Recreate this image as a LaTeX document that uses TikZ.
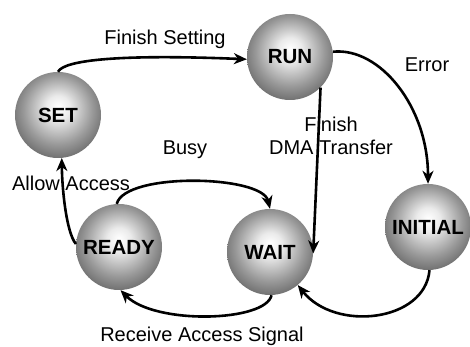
\documentclass[tikz,border=0pt]{standalone}
\usepackage{fontspec}
\setmainfont{Liberation Sans}
\usetikzlibrary{arrows.meta}

% grey sphere: light centre, dark rim
\pgfdeclareradialshading{sphere}{\pgfpoint{0bp}{5bp}}{%
  color(0bp)=(white); color(7bp)=(black!8); color(20bp)=(black!40);
  color(32bp)=(black!66); color(42bp)=(black!88); color(49bp)=(black)}

\tikzset{
  state/.style={circle, shade, shading=sphere, minimum size=86pt, inner sep=0pt,
    font=\fontsize{20.5}{22}\selectfont\bfseries, text=black},
  edge/.style={line width=2.6pt, -{Stealth[length=13pt, width=11pt, inset=4pt]}},
  lbl/.style={font=\fontsize{20}{23}\selectfont, inner sep=0pt, align=center}
}

\begin{document}
\begin{tikzpicture}[x=1pt, y=1pt]
  \useasboundingbox (0,0) rectangle (470,347);

  % states
  \node[state] (set)     at (58,232)  {SET};
  \node[state] (run)     at (290,290) {RUN};
  \node[state] (ready)   at (119,100) {READY};
  \node[state] (wait)    at (270,95)  {WAIT};
  \node[state] (initial) at (428,120) {INITIAL};

  % transitions
  \draw[edge] (set.north) .. controls (64,287) and (120,293) .. (run.183);
  \draw[edge] (run.7) .. controls (380,300) and (428,240) .. (initial.north);
  \draw[edge] (run.-45) -- (wait.-2);
  \draw[edge] (ready.93) .. controls (125,175) and (262,172) .. (wait.north);
  \draw[edge] (ready.176) .. controls (66,115) and (62,160) .. (set.-85);
  \draw[edge] (wait.-88) .. controls (266,25) and (155,22) .. (ready.-88);
  \draw[edge] (initial.-88) .. controls (425,25) and (335,15) .. (wait.-50);

  % transition labels
  \node[lbl, anchor=base] (lset)   at (165,302) {Finish Setting};
  \node[lbl, anchor=base] (lerr)   at (427,275) {Error};
  \node[lbl]              (ldma)   at (331,211) {Finish\\DMA Transfer};
  \node[lbl, anchor=base] (lbusy)  at (185,192) {Busy};
  \node[lbl, anchor=base] (lallow) at (71,156)  {Allow Access};
  \node[lbl, anchor=base] (lrecv)  at (202,5)   {Receive Access Signal};
\end{tikzpicture}
\end{document}
